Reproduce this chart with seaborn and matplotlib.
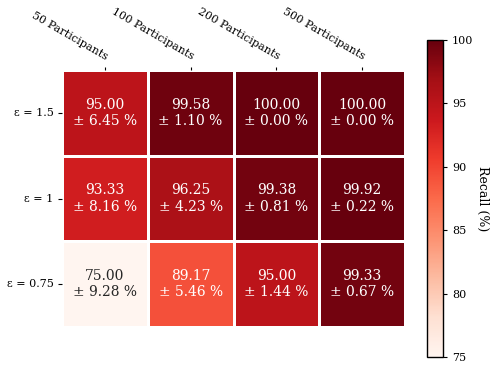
import numpy as np
import pandas as pd
import matplotlib
matplotlib.use("Agg")
import matplotlib.pyplot as plt
import seaborn as sns

participants = ["50 Participants", "100 Participants", "200 Participants", "500 Participants"]
epsilons = ["ε = 1.5", "ε = 1", "ε = 0.75"]
recall_mean = [
    [95.00, 99.58, 100.00, 100.00],
    [93.33, 96.25, 99.38, 99.92],
    [75.00, 89.17, 95.00, 99.33],
]
recall_std = [
    [6.45, 1.10, 0.00, 0.00],
    [8.16, 4.23, 0.81, 0.22],
    [9.28, 5.46, 1.44, 0.67],
]

plt.rcParams["font.family"] = ["DejaVu Serif"]

mean_df = pd.DataFrame(recall_mean, index=epsilons, columns=participants)
labels = np.array([[f"{m:.2f}\n± {s:.2f} %" for m, s in zip(mr, sr)]
                   for mr, sr in zip(recall_mean, recall_std)])

fig = plt.figure(figsize=(4.9, 3.69), dpi=100)
ax = fig.add_axes([62 / 490, 42 / 369, 343 / 490, 257 / 369])
cax = fig.add_axes([427 / 490, 12 / 369, 16 / 490, 317 / 369])

sns.heatmap(mean_df, ax=ax, cbar_ax=cax, cmap="Reds", vmin=75, vmax=100,
            annot=labels, fmt="", annot_kws={"fontsize": 10},
            linewidths=1.0, linecolor="white")

ax.xaxis.tick_top()
ax.set_xticklabels(participants, rotation=-30, ha="right", rotation_mode="anchor",
                   fontsize=8)
ax.set_yticklabels(epsilons, rotation=0, fontsize=8)
ax.tick_params(axis="x", length=2, pad=4)
ax.tick_params(axis="y", length=3, pad=3)

cbar = ax.collections[0].colorbar
cbar.outline.set_visible(True)
cbar.outline.set_edgecolor("black")
cbar.outline.set_linewidth(1)
cbar.ax.tick_params(labelsize=8, length=3)
cbar.set_label("Recall (%)", rotation=270, labelpad=11, fontsize=9)

fig.savefig("out.png", dpi=100)
